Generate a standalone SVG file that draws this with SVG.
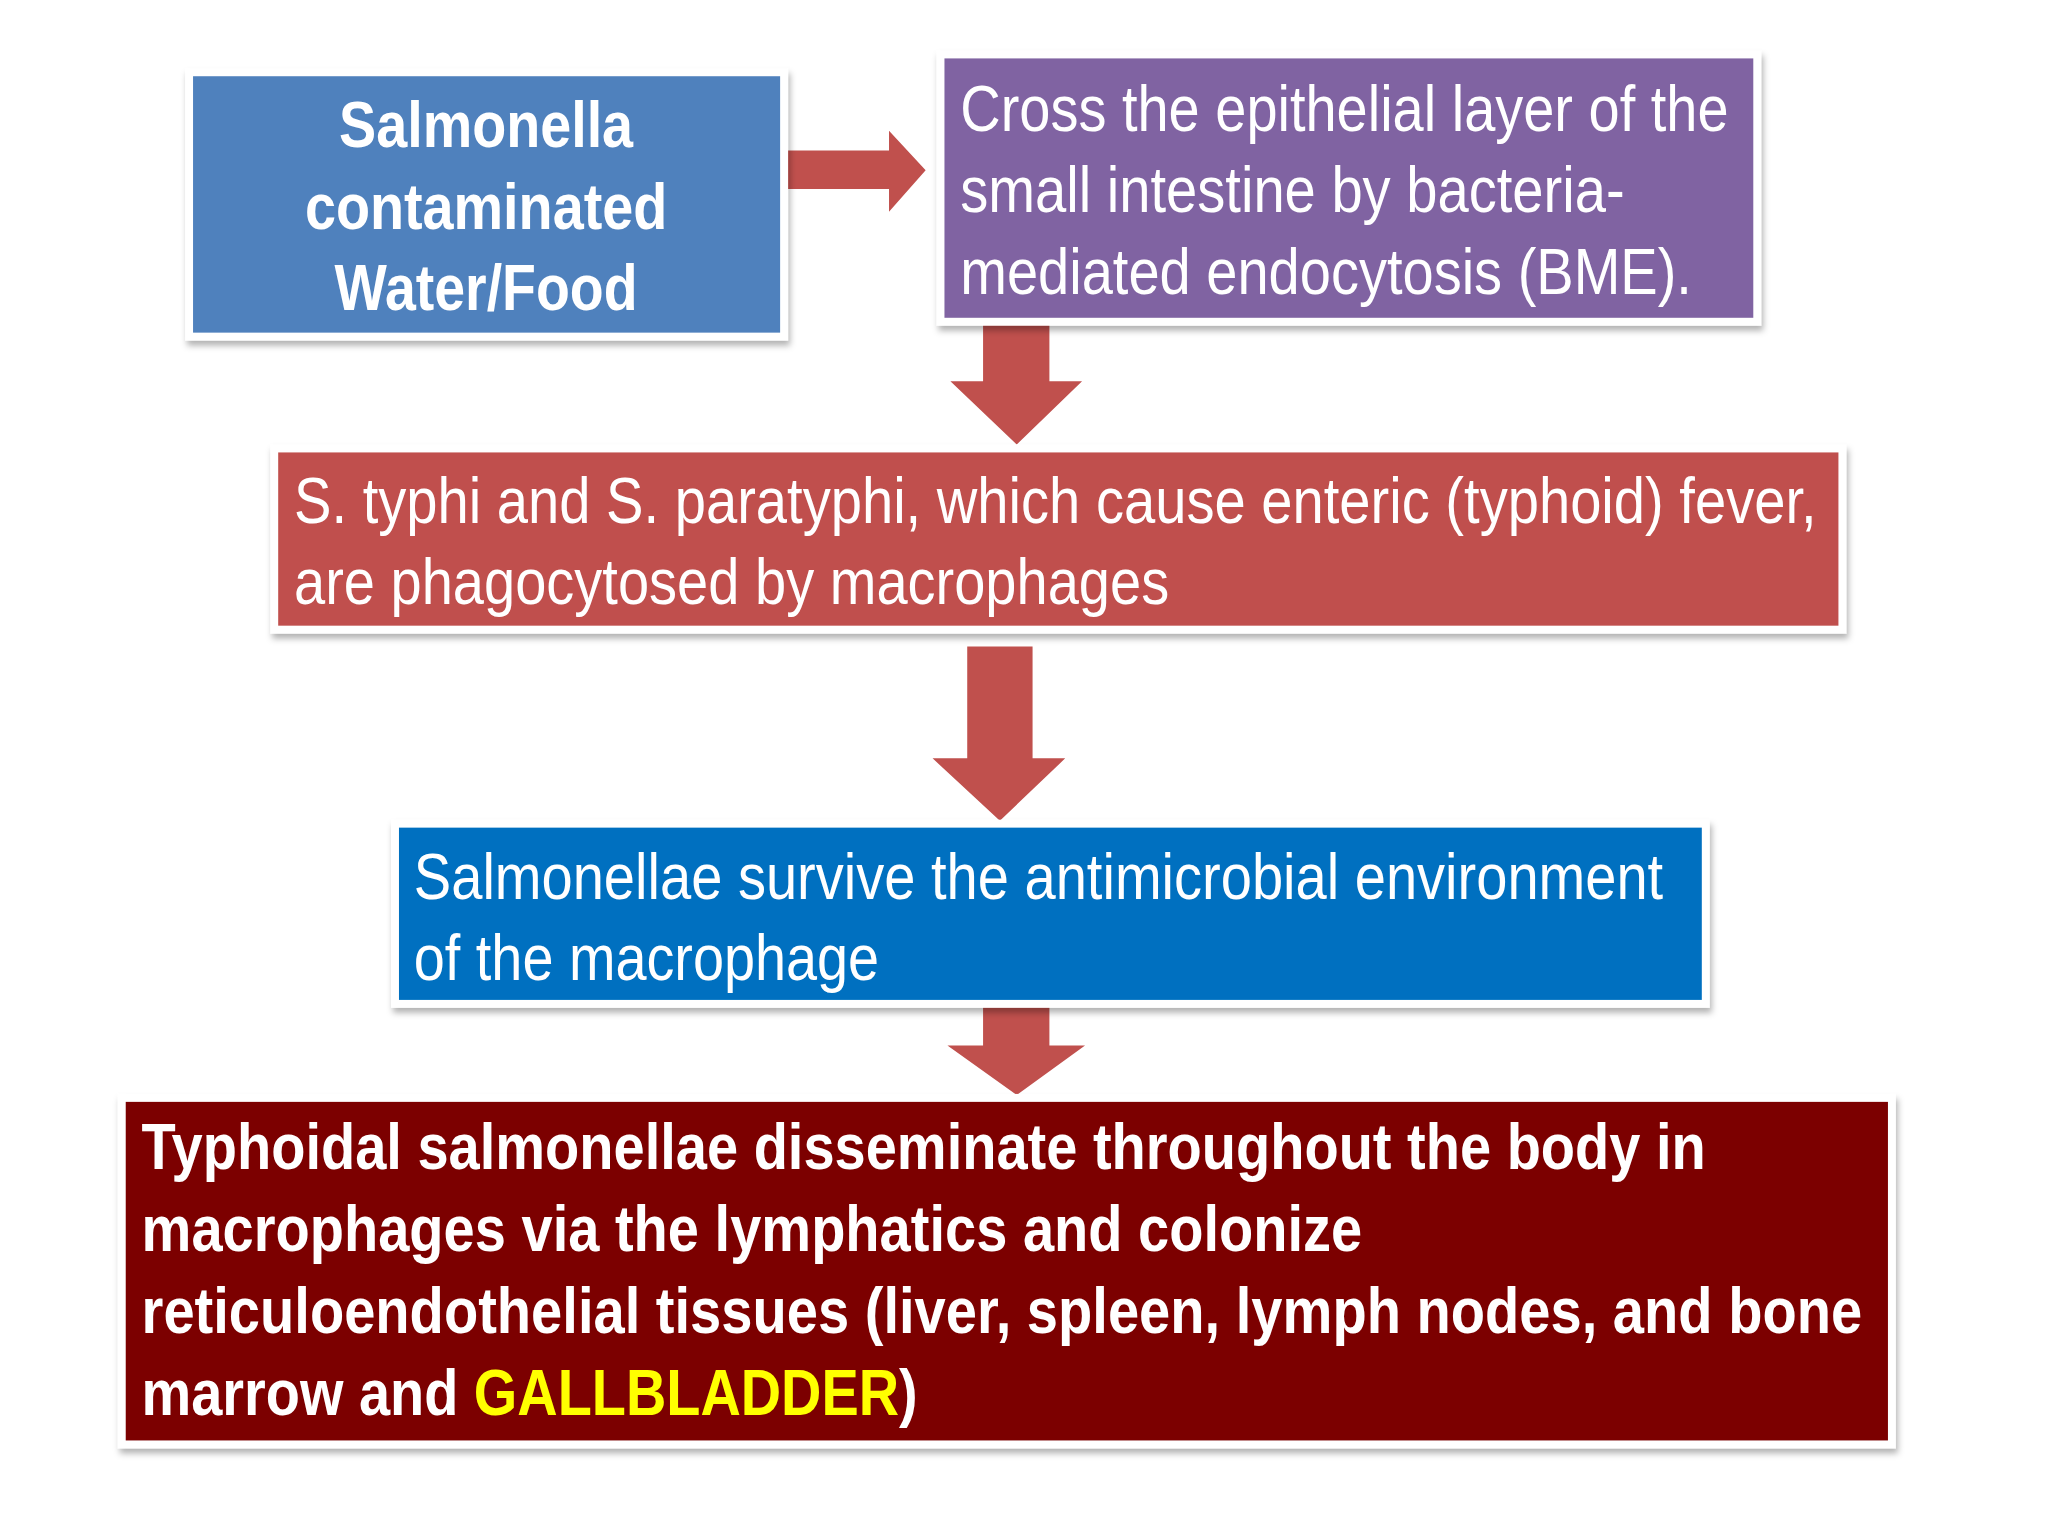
<svg xmlns="http://www.w3.org/2000/svg" width="2048" height="1536" viewBox="0 0 2048 1536">
<defs>
<filter id="sh" x="-5%" y="-5%" width="110%" height="115%"><feDropShadow dx="2" dy="5" stdDeviation="3" flood-color="#000" flood-opacity="0.3"/></filter>
</defs>
<style>
.box{stroke:#fff;stroke-width:8;filter:url(#sh)}
.t{font-family:"Liberation Sans",Arial,sans-serif;fill:#fff;font-size:66px}
.b{font-weight:bold}
.arr{fill:#c0504d}
</style>
<rect width="2048" height="1536" fill="#fff"/>
<g transform="scale(0.99)">
<g id="connectors">
<polygon class="arr" points="792,152 898,152 898,132 935,172 898,214 898,191 792,191"/>
<polygon class="arr" points="993,325 1060,325 1060,385 1093,385 1027,449 960,385 993,385"/>
<polygon class="arr" points="977,653 1043,653 1043,766 1076,766 1010,829 942,766 977,766"/>
<polygon class="arr" points="993,1014 1060,1014 1060,1056 1096,1056 1027,1106 957,1056 993,1056"/>
</g>
<g id="n1">
<rect class="box" x="191" y="73" width="601" height="267" fill="#4f81bd"/>
<g class="t b" text-anchor="middle">
<text x="491" y="148" textLength="297" lengthAdjust="spacingAndGlyphs">Salmonella</text>
<text x="491" y="231" textLength="366" lengthAdjust="spacingAndGlyphs">contaminated</text>
<text x="491" y="313" textLength="306" lengthAdjust="spacingAndGlyphs">Water/Food</text>
</g>
</g>
<g id="n2">
<rect class="box" x="950" y="55" width="825" height="270" fill="#8064a2"/>
<g class="t">
<text x="970" y="132" textLength="776" lengthAdjust="spacingAndGlyphs">Cross the epithelial layer of the</text>
<text x="970" y="214" textLength="671" lengthAdjust="spacingAndGlyphs">small intestine by bacteria-</text>
<text x="970" y="297" textLength="739" lengthAdjust="spacingAndGlyphs">mediated endocytosis (BME).</text>
</g>
</g>
<g id="n3">
<rect class="box" x="277" y="453" width="1584" height="183" fill="#c0504d"/>
<g class="t">
<text x="297" y="528" textLength="1538" lengthAdjust="spacingAndGlyphs">S. typhi and S. paratyphi, which cause enteric (typhoid) fever,</text>
<text x="297" y="610" textLength="884" lengthAdjust="spacingAndGlyphs">are phagocytosed by macrophages</text>
</g>
</g>
<g id="n4">
<rect class="box" x="399" y="832" width="1324" height="182" fill="#0070c0"/>
<g class="t">
<text x="418" y="908" textLength="1262" lengthAdjust="spacingAndGlyphs">Salmonellae survive the antimicrobial environment</text>
<text x="418" y="990" textLength="470" lengthAdjust="spacingAndGlyphs">of the macrophage</text>
</g>
</g>
<g id="n5">
<rect class="box" x="123" y="1109" width="1788" height="350" fill="#7b0000"/>
<g class="t b">
<text x="143" y="1181" textLength="1580" lengthAdjust="spacingAndGlyphs">Typhoidal salmonellae disseminate throughout the body in</text>
<text x="143" y="1264" textLength="1233" lengthAdjust="spacingAndGlyphs">macrophages via the lymphatics and colonize</text>
<text x="143" y="1346" textLength="1738" lengthAdjust="spacingAndGlyphs">reticuloendothelial tissues (liver, spleen, lymph nodes, and bone</text>
<text x="143" y="1429" textLength="784" lengthAdjust="spacingAndGlyphs">marrow and <tspan fill="#ffff00">GALLBLADDER</tspan>)</text>
</g>
</g>
</g>
</svg>
